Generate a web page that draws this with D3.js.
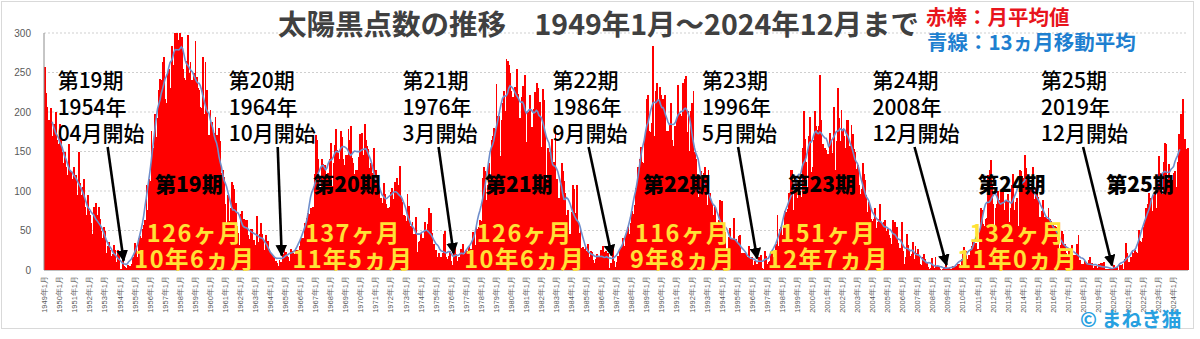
<!DOCTYPE html>
<html>
<head>
<meta charset="utf-8">
<script src="https://cdn.jsdelivr.net/npm/d3@7"></script>
<style>
  body { margin: 0; background: #fff; }
  svg { display: block; font-family: "Noto Sans CJK JP", "Noto Sans", sans-serif; }
</style>
</head>
<body>
<svg id="chart" width="1200" height="339"></svg>
<script>
// 月平均の黒点数 (1949年1月〜2024年12月), 1行 = 1年
const firstYear = 1949;
const sunspots = [
  [257, 224, 206, 190, 150, 205, 170, 185, 175, 200, 165, 160],
  [185, 165, 150, 135, 150, 130, 120, 160, 105, 125, 115, 130],
  [105, 120, 95, 150, 110, 95, 105, 115, 80, 70, 95, 75],
  [70, 60, 45, 80, 55, 85, 70, 80, 65, 50, 40, 55],
  [50, 22, 30, 35, 25, 18, 20, 32, 25, 10, 25, 20],
  [1, 1, 14, 5, 4, 2, 6, 3, 5, 8, 17, 13],
  [34, 30, 17, 40, 43, 40, 52, 57, 63, 108, 76, 115],
  [113, 176, 150, 155, 198, 168, 193, 228, 242, 241, 263, 269],
  [217, 212, 250, 254, 230, 283, 238, 259, 305, 359, 291, 282],
  [300, 295, 255, 243, 241, 265, 298, 250, 263, 240, 220, 249],
  [290, 244, 230, 228, 206, 205, 270, 197, 263, 228, 170, 171],
  [203, 187, 133, 174, 194, 171, 135, 180, 163, 123, 127, 118],
  [83, 57, 95, 62, 79, 111, 108, 103, 85, 56, 47, 32],
  [71, 75, 48, 64, 63, 63, 44, 39, 52, 52, 35, 38],
  [32, 68, 35, 46, 59, 45, 39, 25, 44, 23, 37, 26],
  [22, 19, 17, 15, 11, 9, 5, 13, 10, 9, 20, 27],
  [23, 18, 17, 12, 26, 24, 22, 20, 25, 20, 25, 31],
  [40, 38, 40, 60, 60, 66, 72, 71, 79, 73, 80, 122],
  [171, 164, 140, 104, 105, 140, 134, 133, 122, 117, 123, 140],
  [161, 106, 136, 158, 179, 152, 148, 141, 176, 168, 141, 133],
  [146, 146, 179, 164, 182, 142, 135, 121, 126, 126, 143, 172],
  [157, 174, 145, 185, 164, 157, 153, 129, 135, 123, 155, 99],
  [127, 120, 104, 80, 91, 85, 110, 96, 83, 79, 78, 80],
  [99, 104, 90, 112, 94, 116, 108, 132, 93, 86, 69, 68],
  [62, 96, 81, 48, 56, 61, 45, 38, 67, 23, 36, 37],
  [47, 40, 40, 61, 50, 58, 78, 42, 72, 47, 33, 23],
  [25, 17, 22, 16, 16, 22, 45, 49, 17, 14, 18, 24],
  [12, 6, 22, 33, 20, 11, 16, 9, 26, 33, 12, 20],
  [25, 24, 31, 17, 26, 48, 43, 32, 56, 52, 55, 63],
  [62, 117, 130, 125, 88, 108, 135, 112, 165, 170, 180, 178],
  [236, 195, 195, 144, 190, 212, 226, 201, 267, 264, 260, 250],
  [226, 219, 179, 232, 255, 223, 193, 192, 219, 233, 209, 247],
  [162, 200, 192, 222, 181, 128, 204, 225, 237, 230, 195, 213],
  [156, 229, 215, 171, 115, 155, 149, 151, 166, 133, 137, 178],
  [115, 70, 91, 111, 136, 125, 113, 98, 69, 76, 46, 46],
  [73, 108, 103, 72, 107, 60, 47, 51, 28, 29, 26, 32],
  [24, 33, 16, 24, 23, 13, 9, 14, 20, 8, 18, 25],
  [3, 31, 23, 24, 13, 22, 2, 9, 5, 32, 12, 4],
  [10, 18, 26, 28, 29, 40, 30, 44, 48, 55, 45, 60],
  [75, 71, 82, 104, 98, 130, 140, 156, 137, 135, 168, 177],
  [216, 221, 176, 175, 186, 284, 170, 227, 237, 214, 232, 222],
  [197, 217, 222, 176, 172, 176, 183, 211, 165, 157, 182, 156],
  [191, 234, 198, 195, 169, 237, 242, 246, 175, 201, 151, 201],
  [212, 227, 150, 141, 104, 92, 120, 125, 99, 123, 131, 116],
  [82, 126, 97, 86, 85, 69, 80, 58, 57, 63, 88, 86],
  [87, 54, 48, 24, 27, 42, 53, 34, 39, 66, 27, 39],
  [35, 43, 44, 20, 21, 22, 21, 20, 17, 30, 13, 14],
  [16, 6, 12, 6, 7, 16, 11, 19, 2, 1, 24, 18],
  [8, 10, 12, 21, 25, 17, 14, 33, 69, 31, 52, 55],
  [44, 55, 75, 73, 77, 97, 91, 126, 127, 76, 101, 112],
  [91, 97, 100, 93, 155, 201, 166, 137, 104, 170, 194, 124],
  [131, 164, 201, 182, 177, 182, 247, 190, 160, 145, 155, 152],
  [147, 124, 174, 165, 148, 206, 126, 163, 231, 193, 163, 203],
  [179, 169, 155, 190, 190, 139, 157, 183, 172, 153, 149, 128],
  [133, 107, 96, 102, 136, 121, 114, 95, 74, 86, 80, 64],
  [62, 64, 79, 53, 61, 64, 83, 60, 43, 61, 63, 50],
  [52, 44, 40, 33, 63, 57, 61, 55, 34, 23, 28, 61],
  [24, 7, 16, 46, 32, 24, 18, 20, 35, 14, 31, 22],
  [27, 18, 7, 6, 16, 20, 14, 10, 4, 1, 3, 15],
  [5, 3, 16, 5, 5, 4, 1, 0, 1, 4, 6, 1],
  [2, 2, 1, 1, 5, 4, 5, 0, 7, 7, 6, 14],
  [20, 29, 24, 10, 14, 19, 25, 30, 36, 34, 34, 25],
  [27, 48, 79, 76, 58, 56, 65, 66, 120, 126, 139, 109],
  [83, 50, 78, 84, 100, 89, 99, 90, 101, 76, 87, 58],
  [96, 61, 79, 108, 121, 76, 86, 91, 56, 127, 125, 119],
  [117, 146, 129, 113, 113, 103, 100, 107, 130, 90, 104, 113],
  [93, 67, 55, 75, 89, 67, 66, 64, 79, 64, 62, 58],
  [57, 56, 54, 38, 52, 21, 32, 50, 45, 33, 21, 19],
  [26, 26, 18, 32, 19, 19, 18, 33, 44, 13, 6, 8],
  [7, 11, 3, 9, 13, 16, 2, 9, 3, 5, 5, 3],
  [8, 1, 9, 9, 10, 1, 1, 1, 1, 0, 1, 2],
  [6, 0, 2, 5, 0, 6, 6, 8, 1, 14, 34, 22],
  [10, 8, 17, 25, 21, 25, 23, 22, 51, 37, 35, 41],
  [54, 60, 79, 84, 97, 71, 91, 75, 96, 96, 78, 113],
  [144, 111, 123, 96, 137, 161, 159, 115, 134, 99, 105, 114],
  [123, 125, 105, 137, 172, 163, 197, 216, 141, 166, 153, 155]
];

const yTicks = [0, 50, 100, 150, 200, 250, 300];

// 太陽周期
const cycleNames = ['第19期', '第20期', '第21期', '第22期', '第23期', '第24期', '第25期'];
const cycleStarts = ['1954-04', '1964-10', '1976-03', '1986-09', '1996-05', '2008-12', '2019-12'];
const startMonthText = ['04', '10', '3', '9', '5', '12', '12'];

// 注釈の置き場所 (矢印の先からのずれ)
const labelDx = [-66, -53, -51, -59, -55, -74, -71];
const tailDx = [-16, -4, -15, -23, -19, -32, -29];

const values = sunspots.flat();
const n = values.length;

// 13ヵ月移動平均 (両端を半分の重み)
const smooth = values.map((v, i) => {
  if (i < 6 || i > n - 7) return null;
  let s = 0.5 * values[i - 6] + 0.5 * values[i + 6];
  for (let k = -5; k <= 5; k++) s += values[i + k];
  return s / 12;
});

const svg = d3.select('#chart');

const x = d3.scaleBand().domain(d3.range(n)).range([44, 1188]).padding(0);
const y = d3.scaleLinear().domain([0, 300]).range([270, 33]);
const bw = x.bandwidth();
const cx = i => x(i) + bw / 2;

// 外枠
svg.append('rect')
  .attr('x', 1.5).attr('y', 1.5)
  .attr('width', 1192).attr('height', 327)
  .attr('fill', '#fff')
  .attr('stroke', '#d9d9d9');

// 目盛線
svg.append('g')
  .selectAll('line')
  .data(yTicks.filter(d => d > 0))
  .enter().append('line')
  .attr('x1', 44).attr('x2', 1188)
  .attr('y1', d => y(d)).attr('y2', d => y(d))
  .attr('stroke', '#cfcfcf')
  .attr('stroke-dasharray', '2,2');

// 赤棒
svg.append('g')
  .attr('shape-rendering', 'crispEdges')
  .selectAll('rect')
  .data(values)
  .enter().append('rect')
  .attr('x', (d, i) => x(i))
  .attr('width', bw + 0.6)
  .attr('y', d => y(Math.min(d, 300)))
  .attr('height', d => y(0) - y(Math.min(d, 300)))
  .attr('fill', '#ff0000');

// 青線
const line = d3.line()
  .defined(d => d != null)
  .x((d, i) => cx(i))
  .y(d => y(d));

svg.append('path')
  .datum(smooth)
  .attr('d', line)
  .attr('fill', 'none')
  .attr('stroke', '#6f8ecb')
  .attr('stroke-width', 1.6);

// 軸
svg.append('line')
  .attr('x1', 44).attr('x2', 44).attr('y1', 33).attr('y2', 270)
  .attr('stroke', '#8c8c8c');
svg.append('line')
  .attr('x1', 44).attr('x2', 1188).attr('y1', 270.5).attr('y2', 270.5)
  .attr('stroke', '#bfbfbf');

const yAxis = svg.append('g')
  .attr('transform', 'translate(44,0)')
  .call(d3.axisLeft(y).tickValues(yTicks).tickSize(0).tickPadding(13));
yAxis.select('.domain').remove();
yAxis.selectAll('text')
  .attr('fill', '#595959')
  .style('font-size', '10px')
  .style('font-family', 'Liberation Sans, Arial, sans-serif');

const janIdx = d3.range(0, n, 12);
const xAxis = svg.append('g')
  .attr('transform', 'translate(0,273)')
  .call(d3.axisBottom(x).tickValues(janIdx).tickSize(0)
    .tickFormat(i => (firstYear + i / 12) + '年1月'));
xAxis.select('.domain').remove();
xAxis.selectAll('text')
  .attr('transform', 'rotate(-90)')
  .attr('x', -3)
  .attr('y', 0)
  .attr('dy', '0.35em')
  .attr('text-anchor', 'end')
  .attr('fill', '#595959')
  .style('font-size', '7.5px');

// タイトル・凡例
svg.append('text')
  .attr('x', 278).attr('y', 35)
  .attr('fill', '#404040')
  .style('font-size', '28.5px')
  .style('font-weight', 700)
  .text('太陽黒点数の推移　1949年1月～2024年12月まで');

svg.append('text')
  .attr('x', 926).attr('y', 25)
  .attr('fill', '#e8141c')
  .style('font-size', '20.5px')
  .style('font-weight', 700)
  .text('赤棒：月平均値');

svg.append('text')
  .attr('x', 927).attr('y', 50)
  .attr('fill', '#1e7fd0')
  .style('font-size', '20.5px')
  .style('font-weight', 700)
  .text('青線：13ヵ月移動平均');

// 矢印
const defs = svg.append('defs');
defs.append('marker')
  .attr('id', 'arrow')
  .attr('viewBox', '0 0 10 10')
  .attr('refX', 9).attr('refY', 5)
  .attr('markerWidth', 4.5).attr('markerHeight', 4.5)
  .attr('orient', 'auto')
  .append('path')
  .attr('d', 'M0,0 L10,5 L0,10 z')
  .attr('fill', '#000');

const startIdx = cycleStarts.map(s => {
  const [yy, mm] = s.split('-').map(Number);
  return (yy - firstYear) * 12 + mm - 1;
});

const ann = svg.append('g');
startIdx.forEach((idx, k) => {
  const tipX = cx(idx);
  const tipY = y(smooth[idx]) - 3;
  const tx = tipX + labelDx[k];
  const year = cycleStarts[k].slice(0, 4);

  const t = ann.append('text')
    .attr('fill', '#000')
    .style('font-size', '21px')
    .style('font-weight', 500);
  [cycleNames[k], year + '年', startMonthText[k] + '月開始'].forEach((s, j) => {
    t.append('tspan').attr('x', tx).attr('y', 88 + j * 26.5).text(s);
  });

  ann.append('line')
    .attr('x1', tipX + tailDx[k]).attr('y1', 147)
    .attr('x2', tipX).attr('y2', tipY)
    .attr('stroke', '#000')
    .attr('stroke-width', 2.6)
    .attr('marker-end', 'url(#arrow)');

  // 期の名前と長さ
  const mx = Math.min(cx(idx + 52), 1140);
  ann.append('text')
    .attr('x', mx).attr('y', 192)
    .attr('text-anchor', 'middle')
    .attr('fill', '#000')
    .style('font-size', '21px')
    .style('font-weight', 900)
    .text(cycleNames[k]);

  if (k < startIdx.length - 1) {
    const len = startIdx[k + 1] - idx;
    const lenText = t2 => ann.append('text')
      .attr('x', mx + 6)
      .attr('text-anchor', 'middle')
      .attr('fill', '#ffe236')
      .style('font-size', '23.5px')
      .style('font-weight', 700)
      .style('letter-spacing', '1.5px')
      .text(t2);
    lenText(len + 'ヶ月').attr('y', 242);
    lenText(Math.floor(len / 12) + '年' + (len % 12) + 'ヵ月').attr('y', 268);
  }
});

// 著作表示
svg.append('text')
  .attr('x', 1080).attr('y', 327)
  .attr('fill', '#27a0e0')
  .style('font-size', '20px')
  .style('font-weight', 700)
  .text('© まねき猫');
</script>
</body>
</html>
